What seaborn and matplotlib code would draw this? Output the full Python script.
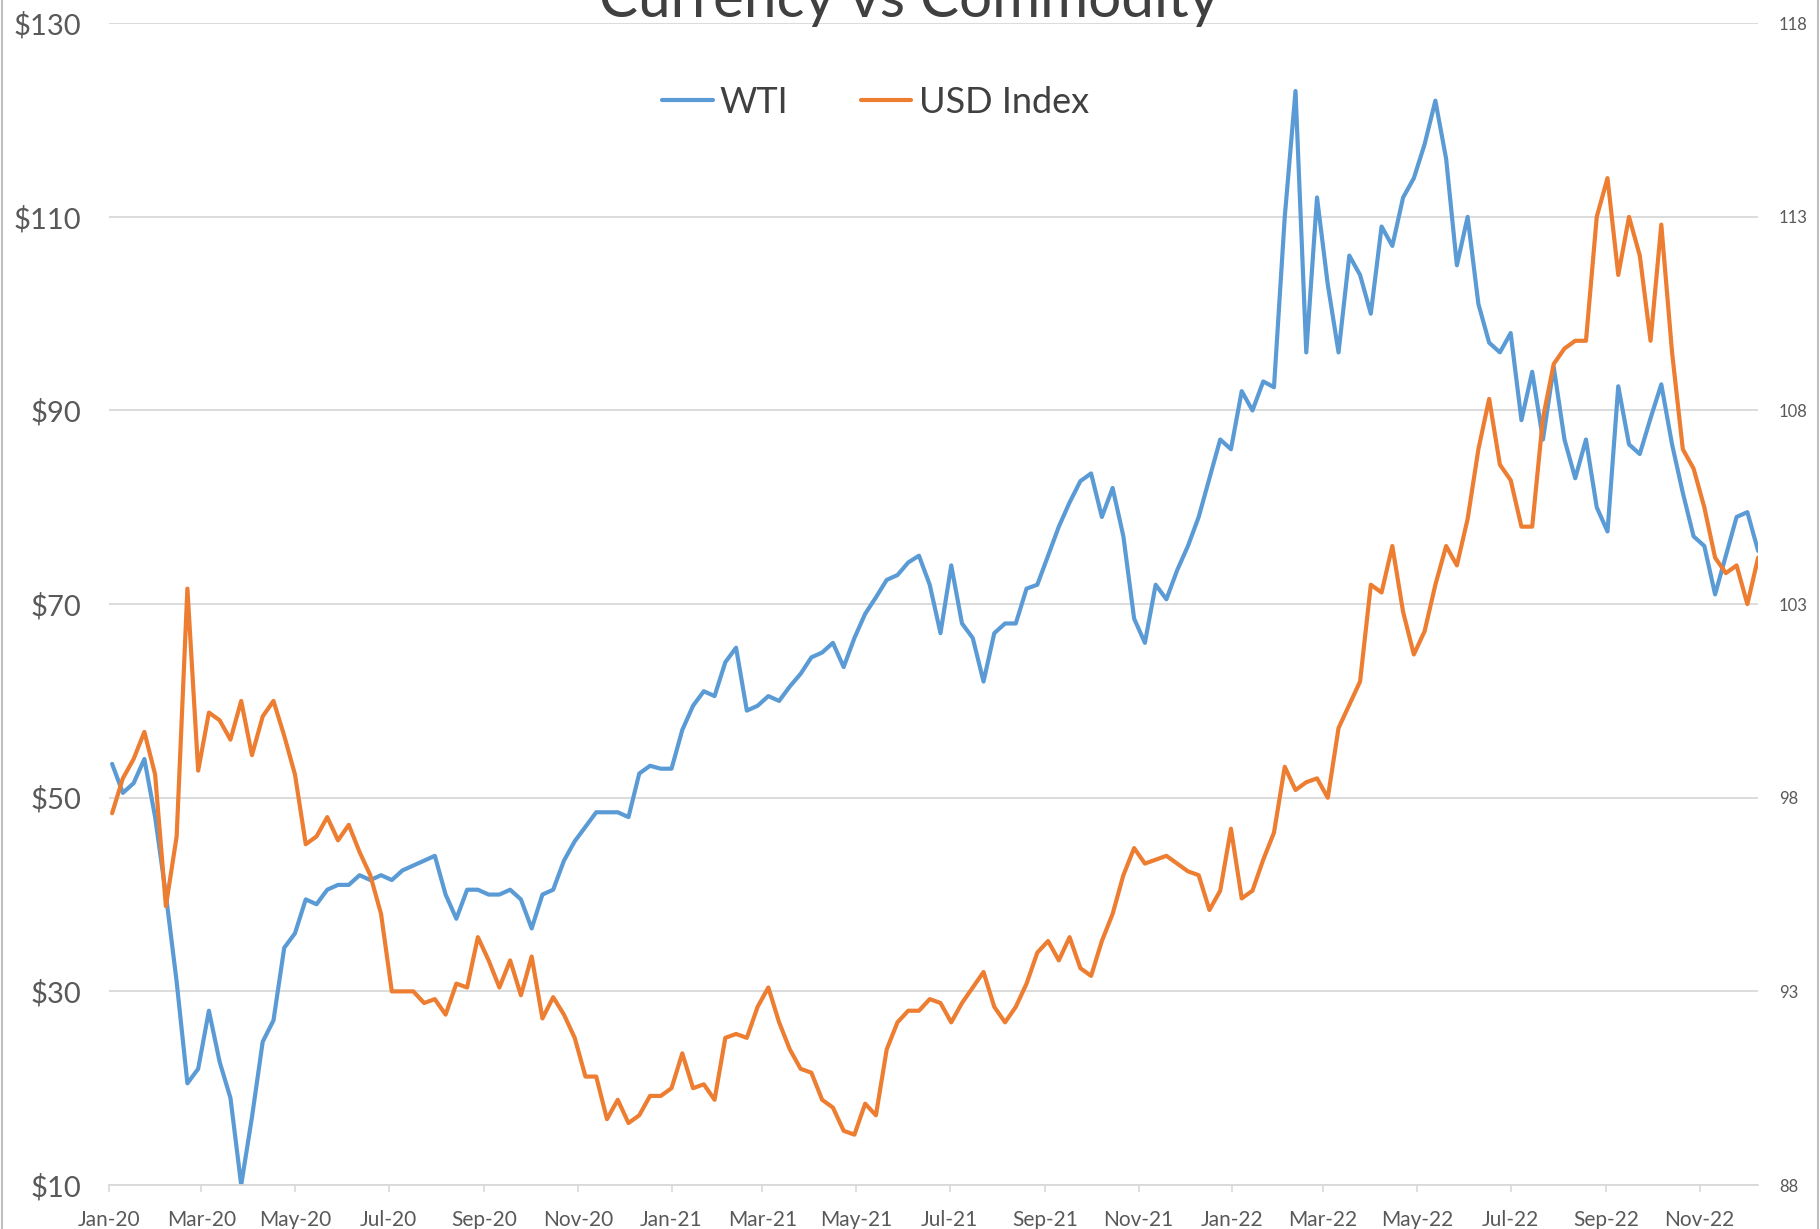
import matplotlib
matplotlib.use("Agg")
import numpy as np
import pandas as pd
import matplotlib.pyplot as plt
import matplotlib.dates as mdates
from matplotlib.ticker import FuncFormatter, FixedLocator
from matplotlib.lines import Line2D
import seaborn as sns

sns.set_theme(style="white")
plt.rcParams['font.family'] = ['Lato', 'DejaVu Sans']

# ---- data (weekly readings from the chart) ----
start_date = "2020-01-03"
wti = [53.5, 50.5, 51.5, 54, 48, 40, 31, 20.5, 22, 28,
       22.7, 19, 10, 17, 24.8, 27, 34.5, 36, 39.5, 39,
       40.5, 41, 41, 42, 41.5, 42, 41.5, 42.5, 43, 43.5,
       44, 40, 37.5, 40.5, 40.5, 40, 40, 40.5, 39.5, 36.5,
       40, 40.5, 43.5, 45.5, 47, 48.5, 48.5, 48.5, 48, 52.5,
       53.3, 53, 53, 57, 59.5, 61, 60.5, 64, 65.5, 59,
       59.5, 60.5, 60, 61.5, 62.8, 64.5, 65, 66, 63.5, 66.5,
       69, 70.7, 72.5, 73, 74.3, 75, 72, 67, 74, 68,
       66.5, 62, 67, 68, 68, 71.6, 72, 75, 78, 80.5,
       82.7, 83.5, 79, 82, 77, 68.5, 66, 72, 70.5, 73.5,
       76, 79, 83, 87, 86, 92, 90, 93, 92.4, 110,
       123, 96, 112, 103, 96, 106, 104, 100, 109, 107,
       112, 114, 117.5, 122, 116, 105, 110, 101, 97, 96,
       98, 89, 94, 87, 94.5, 87, 83, 87, 80, 77.5,
       92.5, 86.5, 85.5, 89.2, 92.7, 86.5, 81.5, 77, 76, 71,
       75, 79, 79.5, 75.5]
usd = [97.6, 98.5, 99.0, 99.7, 98.6, 95.2, 97.0, 103.4, 98.7, 100.2,
       100.0, 99.5, 100.5, 99.1, 100.1, 100.5, 99.6, 98.6, 96.8, 97.0,
       97.5, 96.9, 97.3, 96.6, 96.0, 95.0, 93.0, 93.0, 93.0, 92.7,
       92.8, 92.4, 93.2, 93.1, 94.4, 93.8, 93.1, 93.8, 92.9, 93.9,
       92.3, 92.85, 92.4, 91.8, 90.8, 90.8, 89.7, 90.2, 89.6, 89.8,
       90.3, 90.3, 90.5, 91.4, 90.5, 90.6, 90.2, 91.8, 91.9, 91.8,
       92.6, 93.1, 92.2, 91.5, 91.0, 90.9, 90.2, 90.0, 89.4, 89.3,
       90.1, 89.8, 91.5, 92.2, 92.5, 92.5, 92.8, 92.7, 92.2, 92.7,
       93.1, 93.5, 92.6, 92.2, 92.6, 93.2, 94.0, 94.3, 93.8, 94.4,
       93.6, 93.4, 94.3, 95.0, 96.0, 96.7, 96.3, 96.4, 96.5, 96.3,
       96.1, 96.0, 95.1, 95.6, 97.2, 95.4, 95.6, 96.4, 97.1, 98.8,
       98.2, 98.4, 98.5, 98.0, 99.8, 100.4, 101.0, 103.5, 103.3, 104.5,
       102.8, 101.7, 102.3, 103.5, 104.5, 104.0, 105.2, 107.0, 108.3, 106.6,
       106.2, 105.0, 105.0, 107.8, 109.2, 109.6, 109.8, 109.8, 113.0, 114.0,
       111.5, 113.0, 112.0, 109.8, 112.8, 109.5, 107.0, 106.5, 105.5, 104.2,
       103.8, 104.0, 103.0, 104.2]
series_names = ["WTI", "USD Index"]
left_ticks = [10, 30, 50, 70, 90, 110, 130]
right_ticks = [88, 93, 98, 103, 108, 113, 118]
title_text = "Currency vs Commodity"

dates = pd.date_range(start_date, periods=len(wti), freq="7D")
df = pd.DataFrame({"date": dates, "WTI": wti, "USD": usd})

BLUE = "#5B9BD5"
ORANGE = "#ED7D31"
GRID = "#D9D9D9"
TXT = "#595959"
LW = 3.0

fig = plt.figure(figsize=(18.2, 12.29), dpi=100)
ax = fig.add_axes([0.0599, 0.0358, 0.9061, 0.9453])
ax2 = ax.twinx()

sns.lineplot(data=df, x="date", y="WTI", ax=ax, color=BLUE, lw=LW, legend=False)
sns.lineplot(data=df, x="date", y="USD", ax=ax2, color=ORANGE, lw=LW, legend=False)

ax.set_ylim(10, 130)
ax2.set_ylim(88, 118)
ax.set_xlim(pd.Timestamp("2020-01-01"), pd.Timestamp("2022-12-09"))

ax.yaxis.set_major_locator(FixedLocator(left_ticks))
ax.yaxis.set_major_formatter(FuncFormatter(lambda v, p: f"${v:.0f}"))
ax2.yaxis.set_major_locator(FixedLocator(right_ticks))
ax2.yaxis.set_major_formatter(FuncFormatter(lambda v, p: f"{v:.0f}"))

ax.xaxis.set_major_locator(mdates.MonthLocator(bymonth=[1, 3, 5, 7, 9, 11]))
ax.xaxis.set_major_formatter(mdates.DateFormatter("%b-%y"))

ax.yaxis.grid(True, color=GRID, lw=1.3)
ax.xaxis.grid(False)
ax.set_axisbelow(True)

for s in ["left", "right", "top"]:
    ax.spines[s].set_visible(False)
    ax2.spines[s].set_visible(False)
ax2.spines["bottom"].set_visible(False)
ax.spines["bottom"].set_color(GRID)
ax.spines["bottom"].set_linewidth(1.3)

ax.set_xlabel("")
ax.set_ylabel("")
ax2.set_xlabel("")
ax2.set_ylabel("")

ax.tick_params(axis="x", length=5, width=1.2, color=GRID, pad=13,
               labelsize=15, labelcolor=TXT, direction="out", bottom=True)
ax.tick_params(axis="y", length=0, pad=20, labelsize=21, labelcolor=TXT)
ax2.tick_params(axis="y", length=0, pad=15, labelsize=12, labelcolor=TXT)

handles = [Line2D([0], [0], color=BLUE, lw=LW), Line2D([0], [0], color=ORANGE, lw=LW)]
leg = fig.legend(handles, series_names, loc="center", bbox_to_anchor=(0.481, 0.917),
                 ncol=2, frameon=False, fontsize=26, handlelength=1.4,
                 handletextpad=0.2, columnspacing=2.0)
for t in leg.get_texts():
    t.set_color("#404040")

fig.text(0.4994, 1 - 17.4 / 1229, title_text, ha="center", va="baseline",
         fontsize=42, color="#404040")

fig.add_artist(Line2D([0.0012, 0.0012], [0, 1], transform=fig.transFigure, color="#BFBFBF", lw=1.5))
fig.add_artist(Line2D([0.9988, 0.9988], [0, 1], transform=fig.transFigure, color="#BFBFBF", lw=1.5))

fig.savefig("out.png", dpi=100)
